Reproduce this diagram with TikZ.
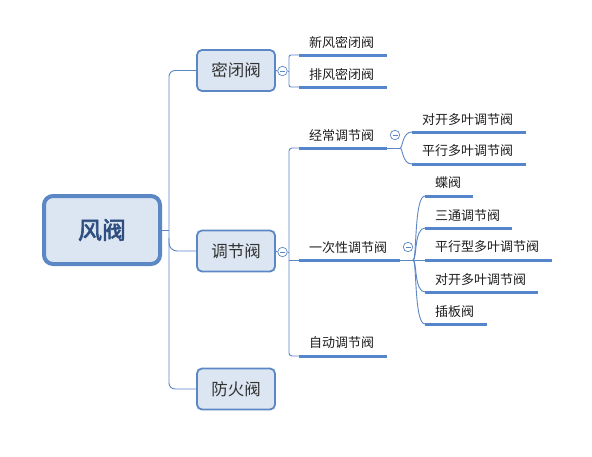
\documentclass[tikz,border=0pt]{standalone}
\usepackage{fontspec}
\setmainfont{Noto Sans CJK SC}[AutoFakeBold=2.5]
\definecolor{lc}{HTML}{5B87C5}
\definecolor{ul}{HTML}{5585CA}
\definecolor{bx}{HTML}{DCE6F2}
\definecolor{rt}{HTML}{2E4E80}
\definecolor{tx}{HTML}{1E1E1E}
\definecolor{tt}{HTML}{333333}
\begin{document}
\begin{tikzpicture}[x=1pt,y=-1pt,
 topic/.style={draw=lc, line width=1.8pt, fill=bx, rounded corners=5pt, minimum width=78pt, minimum height=41pt, inner sep=0pt, font=\fontsize{16.5}{18}\selectfont, text=tt},
 rootbox/.style={draw=lc, line width=4pt, fill=bx, rounded corners=9pt, minimum width=116pt, minimum height=68pt, inner sep=0pt, font=\fontsize{24}{26}\selectfont\bfseries, text=rt},
 leaf/.style={inner sep=0pt, anchor=west, font=\fontsize{13}{15}\selectfont, text=tx},
 conn/.style={draw=lc, line width=0.9pt},
 uline/.style={draw=ul, line width=3pt},
 fold/.style={circle, draw=lc, fill=white, line width=0.7pt, minimum size=9.5pt, inner sep=0pt,
   path picture={\draw[lc, line width=0.7pt] ([xshift=-2.5pt]path picture bounding box.center) -- ([xshift=2.5pt]path picture bounding box.center);}}
]
\useasboundingbox (0,0) rectangle (592,456);
\fill[white] (0,0) rectangle (592,456);

% main topics
\node[rootbox] (R) at (102,230) {风阀};
\node[topic] (A) at (236,70.5) {密闭阀};
\node[topic] (B) at (236,251) {调节阀};
\node[topic] (C) at (236,389) {防火阀};

% trunk
\coordinate (T) at (169,230);
\coordinate (TB) at (169,238);
\draw[conn] (R.east) -- (T);
\draw[conn, rounded corners=6pt] (A.west) -| (T) |- (C.west);
\draw[conn, rounded corners=8pt] (TB) |- (B.west);

% ---- 密闭阀 branch
\node[fold] (fa) at (282.5,71) {};
\coordinate (ja) at (289,71);
\draw[conn] (A.east) -- (fa.west);
\draw[conn] (fa.east) -- (ja);
\coordinate (a1s) at (299,55); \coordinate (a1e) at (387,55);
\coordinate (a2s) at (299,87); \coordinate (a2e) at (387,87);
\draw[conn, rounded corners=2pt] (a1s) -| (ja) |- (a2s);
\draw[uline] (a1s) -- (a1e);
\draw[uline] (a2s) -- (a2e);
\node[leaf] (a1) at (309,42.5) {新风密闭阀};
\node[leaf] (a2) at (309,74) {排风密闭阀};

% ---- 调节阀 branch
\node[fold] (fb) at (282.5,252) {};
\coordinate (jb) at (289,252);
\draw[conn] (B.east) -- (fb.west);
\draw[conn] (fb.east) -- (jb);
\coordinate (b1s) at (299,148); \coordinate (b1e) at (387,148);
\coordinate (b2s) at (299,260); \coordinate (b2e) at (400,260);
\coordinate (b3s) at (299,356); \coordinate (b3e) at (387,356);
\draw[conn, rounded corners=3pt] (b1s) -| (jb) |- (b3s);
\draw[conn] (b2s -| jb) -- (b2s);
\draw[uline] (b1s) -- (b1e);
\draw[uline] (b2s) -- (b2e);
\draw[uline] (b3s) -- (b3e);
\node[leaf] (b1) at (309,136) {经常调节阀};
\node[leaf] (b2) at (309,247.5) {一次性调节阀};
\node[leaf] (b3) at (309,343) {自动调节阀};

% ---- 经常调节阀 children
\node[fold] (fc) at (395,135) {};
\coordinate (jc) at (400,148);
\draw[conn] (b1e) -- (jc);
\coordinate (c1s) at (412,132); \coordinate (c1e) at (526,132);
\coordinate (c2s) at (412,164); \coordinate (c2e) at (526,164);
\draw[conn] (jc) .. controls (403,148) and (402,132) .. (c1s);
\draw[conn] (jc) .. controls (403,148) and (402,164) .. (c2s);
\draw[uline] (c1s) -- (c1e);
\draw[uline] (c2s) -- (c2e);
\node[leaf] (c1) at (422,119.5) {对开多叶调节阀};
\node[leaf] (c2) at (422,151) {平行多叶调节阀};

% ---- 一次性调节阀 children
\node[fold] (fd) at (408,247) {};
\coordinate (jd) at (413,260);
\coordinate (d1s) at (425,196); \coordinate (d1e) at (473,196);
\coordinate (d2s) at (425,228); \coordinate (d2e) at (512,228);
\coordinate (d3s) at (425,260); \coordinate (d3e) at (552,260);
\coordinate (d4s) at (425,292); \coordinate (d4e) at (538,292);
\coordinate (d5s) at (425,324); \coordinate (d5e) at (487,324);
\draw[conn] (b2e) -- (d3s);
\draw[conn] (jd) .. controls (417,260) and (414,196) .. (d1s);
\draw[conn] (jd) .. controls (417,260) and (414,228) .. (d2s);
\draw[conn] (jd) .. controls (417,260) and (414,292) .. (d4s);
\draw[conn] (jd) .. controls (417,260) and (414,324) .. (d5s);
\draw[uline] (d1s) -- (d1e);
\draw[uline] (d2s) -- (d2e);
\draw[uline] (d3s) -- (d3e);
\draw[uline] (d4s) -- (d4e);
\draw[uline] (d5s) -- (d5e);
\node[leaf] (d1) at (435,183) {蝶阀};
\node[leaf] (d2) at (435,215.5) {三通调节阀};
\node[leaf] (d3) at (435,247) {平行型多叶调节阀};
\node[leaf] (d4) at (435,279.5) {对开多叶调节阀};
\node[leaf] (d5) at (435,312) {插板阀};
\end{tikzpicture}
\end{document}
